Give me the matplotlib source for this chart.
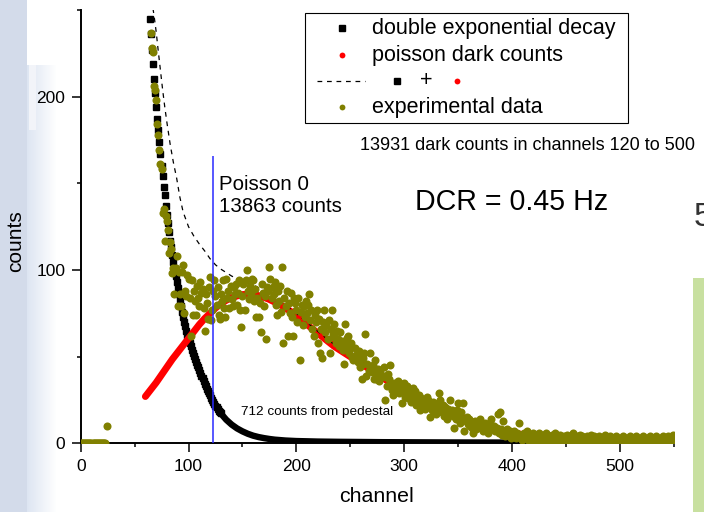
import numpy as np
import matplotlib.pyplot as plt
from matplotlib.patches import Rectangle
from matplotlib.lines import Line2D
from matplotlib.ticker import MultipleLocator

plt.rcParams['font.family'] = ['Liberation Sans', 'DejaVu Sans']

# ---- data ----
# double exponential decay (fit), one point per channel at the steep part
decay_ch = np.arange(64, 131)
decay_counts = [245, 236, 227, 219, 210, 202, 194, 187, 181, 174,
                167, 160, 154, 148, 143, 137, 132, 127, 122, 117,
                113, 108.5, 104.5, 100.5, 96.5, 93, 89.5, 86, 82.5, 79.5,
                76, 73, 70, 67.5, 65, 62.5, 60, 58, 56, 54,
                52, 50.3, 48.6, 47, 45.4, 43.8, 42.2, 40.6, 39, 37.4,
                35.9, 34.4, 33, 31.6, 30.2, 28.9, 27.6, 26.4, 25.2, 24,
                22.9, 21.8, 20.8, 19.8, 18.9, 18, 17.2]
# ... and its flat tail
decay_tail_ch = [130, 135, 140, 145, 150, 155, 160, 165, 170, 175, 180, 190,
                 200, 220, 240, 260, 280, 300, 340, 380, 420, 460, 500, 550]
decay_tail_counts = [17.2, 13.6, 10.8, 8.6, 6.9, 5.5, 4.4, 3.6, 3.0, 2.5, 2.1, 1.6,
                     1.3, 1.0, 0.85, 0.75, 0.65, 0.6, 0.5, 0.45, 0.4, 0.35, 0.3, 0.25]

# poisson dark counts (fit)
poisson_ch = np.arange(60, 551, 5)
poisson_counts = [27, 31, 35, 39.5, 44, 48.5, 52.5, 56.5, 60.5,
                  64.5, 68.5, 72, 75, 78, 80.5, 82.5, 84, 85, 85.8,
                  86, 85.8, 85.2, 84.2, 83, 81.5, 80, 78, 76, 73.5,
                  71, 68.5, 66, 63.5, 61, 58.5, 56, 54, 52, 50,
                  48, 46, 44, 42, 40, 38, 35.8, 33.6, 31.8, 30,
                  28.3, 26.8, 25.3, 23.8, 22.4, 21, 19.6, 18.3, 17, 15.7,
                  14.5, 13.3, 12.2, 11.2, 10.2, 9.3, 8.4, 7.6, 6.9, 6.2,
                  5.6, 5, 4.5, 4, 3.6, 3.2, 2.8, 2.5, 2.2, 1.9,
                  1.7, 1.5, 1.3, 1.15, 1.0, 0.9, 0.8, 0.7, 0.6, 0.5,
                  0.45, 0.4, 0.35, 0.32, 0.29, 0.26, 0.24, 0.22, 0.2, 0.18]

# sum of both fits (dashed)
sum_ch = [67, 68, 70, 72, 74, 76, 78, 80, 83, 86,
          89, 92, 95, 100, 105, 110, 115, 120, 125, 130,
          135, 140, 145, 150, 155, 160, 165, 170, 175, 180,
          185, 190, 195, 200, 210, 220, 230, 240, 250, 260,
          270, 280, 290, 300, 320, 340, 360, 380, 400, 420,
          440, 460, 480, 500, 525, 550]
sum_counts = [251, 247, 237.5, 226, 215, 204, 194, 185, 172.5, 162,
              153, 142, 133.5, 125, 119.5, 115, 111, 106.5, 103, 100.5,
              98.5, 96.5, 95, 93.8, 92.7, 91.3, 89.8, 88.2, 86.3, 84.3,
              82, 79.7, 77.3, 75, 69.7, 64.6, 59.4, 54.9, 50.9, 46.8,
              42.8, 38.7, 34.3, 30.6, 24.3, 18.8, 13.8, 9.8, 6.6, 4.4,
              2.9, 1.85, 1.25, 0.8, 0.55, 0.43]

# experimental data: pedestal region and spectrum from channel 65
pedestal_ch = np.arange(0, 25)
pedestal_counts = [0, 0, 0, 0, 0, 0, 0, 0, 0, 0, 0, 0,
                   0, 0, 0, 0, 0, 0, 0, 0, 0, 0, 0, 0, 10]
exp_counts = [237, 228, 226, 206, 204, 198, 184, 178, 169, 161,
              158, 133, 135, 117, 131, 128, 123, 110, 116, 112,
              98, 101, 86, 101, 108, 79, 99, 86, 79, 99,
              103, 75, 88, 85, 97, 95, 84, 62, 94, 74,
              88, 82, 74, 91, 84, 79, 93, 87, 89, 78,
              65, 86, 81, 72, 90, 96, 71, 77, 88, 94,
              85, 80, 90, 74, 72, 86, 82, 94, 78, 73,
              95, 84, 88, 78, 91, 83, 79, 90, 86, 92,
              80, 87, 94, 77, 67, 85, 92, 77, 94, 100,
              88, 83, 91, 86, 95, 94, 82, 89, 73, 84,
              73, 81, 64, 92, 87, 79, 85, 60, 90, 88,
              102, 95, 84, 90, 86, 93, 80, 74, 88, 82,
              91, 76, 102, 58, 84, 79, 88, 62, 81, 75,
              87, 73, 62, 84, 81, 77, 70, 84, 48, 76,
              80, 68, 79, 73, 82, 75, 80, 86, 71, 77,
              66, 62, 74, 70, 77, 58, 72, 52, 66, 49,
              70, 77, 64, 68, 60, 71, 52, 66, 77, 63,
              69, 61, 58, 65, 60, 56, 64, 59, 54, 46,
              69, 57, 61, 62, 52, 55, 58, 50, 48, 55,
              51, 51, 47, 53, 44, 45, 37, 49, 52, 63,
              39, 46, 42, 52, 44, 41, 45, 37, 48, 37,
              40, 43, 36, 41, 38, 39, 44, 25, 38, 33,
              40, 37, 45, 34, 31, 28, 35, 30, 33, 36,
              29, 31, 34, 23, 31, 35, 27, 30, 33, 26,
              29, 24, 28, 32, 26, 30, 22, 27, 24, 28,
              19, 26, 22, 25, 20, 23, 27, 25, 21, 15,
              22, 19, 24, 18, 21, 17, 23, 29, 25, 20,
              18, 22, 16, 21, 19, 14, 20, 17, 25, 19,
              16, 9, 17, 14, 19, 23, 15, 12, 18, 14,
              23, 7, 13, 15, 11, 14, 10, 12, 9, 6,
              11, 13, 8, 10, 12, 14, 9, 11, 7, 9,
              12, 8, 10, 6, 9, 12, 14, 8, 10, 7,
              9, 9, 17, 6, 18, 8, 5, 13, 7, 4,
              8, 6, 5, 7, 3, 6, 4, 7, 5, 3,
              6, 4, 12, 5, 2, 4, 6, 3, 5, 7,
              2, 4, 5, 1, 3, 6, 2, 5, 0, 3,
              6, 1, 4, 2, 5, 3, 1, 6, 3, 0,
              4, 2, 5, 1, 3, 6, 2, 4, 0, 3,
              5, 1, 2, 4, 0, 3, 5, 2, 1, 4,
              0, 3, 6, 2, 1, 4, 3, 0, 5, 2,
              4, 1, 3, 0, 2, 4, 1, 3, 5, 0,
              2, 4, 1, 3, 0, 2, 4, 1, 3, 0,
              2, 5, 1, 3, 0, 2, 4, 1, 2, 0,
              3, 1, 4, 2, 0, 3, 1, 2, 4, 0,
              2, 3, 1, 0, 2, 4, 1, 3, 0, 2,
              4, 1, 2, 0, 3, 1, 2, 4, 0, 1,
              3, 2, 0, 4, 1, 2, 3, 0, 2, 4,
              1, 2, 0, 3, 1, 4, 2, 0, 3, 1,
              4, 2, 0, 3, 5, 2]
exp_ch = np.arange(65, 65 + len(exp_counts))

# Poisson 0 cut
cut_ch = 123
cut_top = 166

# ---- figure ----
W, H = 704, 512
fig = plt.figure(figsize=(W / 100, H / 100), dpi=100)


def fx(px):
    return px / W


def fy(py):
    return 1 - py / H


# faded slide background on the left
bg = np.ones((H, W, 3))
bg[:, :27] = (0.83, 0.86, 0.92)
for i in range(27, 56):
    t = (i - 27) / 29.0
    bg[65:, i] = (0.87 + 0.13 * t, 0.90 + 0.10 * t, 0.95 + 0.05 * t)
bg[65:130, 29:36] = (0.95, 0.96, 0.98)
bg_ax = fig.add_axes([0, 0, 1, 1], zorder=-10)
bg_ax.imshow(bg, extent=[0, W, H, 0], aspect='auto')
bg_ax.axis('off')

ax = fig.add_axes([fx(80.7), fy(443.3), fx(673.6) - fx(80.7), fy(10) - fy(443.3)])
ax.patch.set_alpha(0)

ax.plot(decay_ch, decay_counts, 's', color='black', ms=3.8, zorder=2)
ax.plot(decay_tail_ch, decay_tail_counts, '-', color='black', lw=4.6, zorder=2)
ax.plot(poisson_ch, poisson_counts, '-', color='#ff0000', lw=5, solid_capstyle='round', zorder=3)
ax.plot(sum_ch, sum_counts, color='black', lw=0.9, linestyle=(0, (3.8, 3.8)), zorder=4)
ax.plot(pedestal_ch, pedestal_counts, 'o', color='#808000', ms=5.8, mew=0, zorder=5)
ax.plot(exp_ch, exp_counts, 'o', color='#808000', ms=5.8, mew=0, zorder=5)
ax.vlines(cut_ch, 0, cut_top, color='#2a2aff', lw=1.1, zorder=6)

ax.set_xlim(0, 550)
ax.set_ylim(0, 250)
ax.xaxis.set_major_locator(MultipleLocator(100))
ax.xaxis.set_minor_locator(MultipleLocator(50))
ax.yaxis.set_major_locator(MultipleLocator(100))
ax.yaxis.set_minor_locator(MultipleLocator(50))
for s in ['top', 'right']:
    ax.spines[s].set_visible(False)
for s in ['left', 'bottom']:
    ax.spines[s].set_linewidth(1.4)
ax.tick_params(which='major', direction='out', length=6.3, width=1.1, labelsize=12.5, pad=4.8)
ax.tick_params(which='minor', direction='out', length=3.2, width=1.1)

# annotations
ax.text(128.5, 143, 'Poisson 0\n13863 counts', fontsize=14.8, va='center', ha='left')
ax.text(148.8, 17.9, '712 counts from pedestal', fontsize=9.7, va='center', ha='left')
fig.text(fx(360), fy(145), '13931 dark counts in channels 120 to 500', fontsize=12.95, va='center', ha='left')
fig.text(fx(415), fy(202), 'DCR = 0.45 Hz', fontsize=20.6, va='center', ha='left')
fig.text(fx(694), fy(218), '5', fontsize=24, color='#333333', va='center', ha='left')
fig.add_artist(Rectangle((fx(692.7), 0), fx(W) - fx(692.7), fy(278.3), transform=fig.transFigure,
                         facecolor='#c8e0a0', edgecolor='none', zorder=0))

fig.text(fx(377), fy(496), 'channel', fontsize=15.4, ha='center', va='center')
fig.text(fx(16), fy(241), 'counts', fontsize=15, rotation=90, ha='center', va='center')

# legend drawn by hand (third row mixes a line with inline symbols)
fig.add_artist(Rectangle((fx(305), fy(122.7)), fx(628.3) - fx(305), fy(13.3) - fy(122.7),
                         transform=fig.transFigure, facecolor='white', edgecolor='black', lw=0.8, zorder=3))
legend_rows = [28.3, 55, 81, 107.3]
fig.add_artist(Line2D([fx(341.7)], [fy(legend_rows[0])], transform=fig.transFigure,
                      marker='s', color='black', ms=4.2, zorder=4))
fig.add_artist(Line2D([fx(341.7)], [fy(legend_rows[1])], transform=fig.transFigure,
                      marker='o', color='#ff0000', ms=4.2, mew=0, zorder=4))
fig.add_artist(Line2D([fx(316.7), fx(365)], [fy(legend_rows[2])] * 2, transform=fig.transFigure,
                      color='black', lw=0.9, linestyle=(0, (3.8, 3.8)), zorder=4))
fig.add_artist(Line2D([fx(396.7)], [fy(legend_rows[2])], transform=fig.transFigure,
                      marker='s', color='black', ms=4.2, zorder=4))
fig.text(fx(426.5), fy(legend_rows[2]), '+', fontsize=15.5, ha='center', va='center', zorder=4)
fig.add_artist(Line2D([fx(456.7)], [fy(legend_rows[2])], transform=fig.transFigure,
                      marker='o', color='#ff0000', ms=4.2, mew=0, zorder=4))
fig.add_artist(Line2D([fx(341.7)], [fy(legend_rows[3])], transform=fig.transFigure,
                      marker='o', color='#808000', ms=4.2, mew=0, zorder=4))
fig.text(fx(371.7), fy(legend_rows[0]), 'double exponential decay', fontsize=15.5, va='center', zorder=4)
fig.text(fx(371.7), fy(legend_rows[1]), 'poisson dark counts', fontsize=15.5, va='center', zorder=4)
fig.text(fx(371.7), fy(legend_rows[3]), 'experimental data', fontsize=15.5, va='center', zorder=4)

fig.savefig('out.png', dpi=100)
